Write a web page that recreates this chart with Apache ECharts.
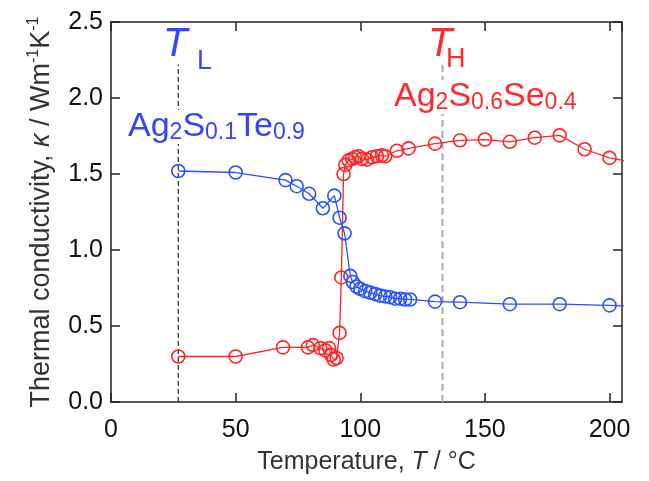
<!DOCTYPE html>
<html><head><meta charset="utf-8">
<script src="https://cdn.jsdelivr.net/npm/echarts@6/dist/echarts.min.js"></script>
<style>html,body{margin:0;padding:0;background:#fff}#c{width:649px;height:481px}</style>
</head><body><div id="c"></div>
<script>
// Ag2S0.1Te0.9 (blue)
const blueT = [27,50,70,74.5,79.5,85,89.6,91.7,93.7,96,97,98.5,100,102,104,106,108,110,112,114,116,118,120,130,140,160,180,200,210];
const blueK = [1.52,1.51,1.46,1.42,1.37,1.275,1.358,1.213,1.11,0.83,0.79,0.76,0.745,0.73,0.72,0.71,0.70,0.695,0.69,0.68,0.68,0.675,0.675,0.661,0.657,0.644,0.644,0.636,0.63];
// Ag2S0.6Se0.4 (red)
const redT = [27,50,69,79,81,84,86,87.5,88.3,89.3,90.5,91.7,92.4,93.3,94,95.3,96.7,98,99.3,100.7,102.7,104.7,106.7,108.7,110,114.7,119.4,130,140,150,160,170,180,190,200,210];
const redK = [0.30,0.30,0.36,0.36,0.375,0.355,0.34,0.355,0.31,0.28,0.29,0.455,0.82,1.50,1.56,1.59,1.60,1.61,1.617,1.60,1.595,1.61,1.617,1.623,1.617,1.653,1.669,1.70,1.722,1.727,1.712,1.739,1.754,1.663,1.606,1.575];
const tL = 27, tH = 133, markTop = 2.22;
const xTicks = [0,50,100,150,200];
const yTicks = [0,0.5,1.0,1.5,2.0,2.5];

const BLUE = '#2850ff', RED = '#ff2424';
const TBLUE = '#3344ff', TRED = '#ff2a2a';
const FONT = 'Liberation Sans';
const axisColor = '#222';
const pairs = (xs, ys) => xs.map((x, i) => [x, ys[i]]);

const chart = echarts.init(document.getElementById('c'), null, {renderer: 'canvas'});
const commonAxis = {
  axisLine: {show: true, onZero: false, lineStyle: {color: axisColor, width: 1.5}},
  axisTick: {show: true, inside: true, length: 9, lineStyle: {color: axisColor, width: 1.5}},
  splitLine: {show: false}
};
chart.setOption({
  animation: false,
  backgroundColor: '#fff',
  grid: {left: 111, right: 27, top: 22, bottom: 70},
  xAxis: [
    Object.assign({type: 'value', min: 0, max: 205, interval: 50, position: 'bottom',
      name: 'Temperature, {i|T} / °C', nameLocation: 'middle', nameGap: 38,
      nameTextStyle: {fontFamily: FONT, fontSize: 25, color: '#333', lineHeight: 28,
        rich: {i: {fontFamily: FONT, fontSize: 25, fontStyle: 'italic', color: '#333'}}},
      axisLabel: {fontFamily: FONT, fontSize: 25, color: '#111', margin: 16, showMaxLabel: false,
        formatter: v => xTicks.includes(v) ? String(v) : ''}}, commonAxis),
    Object.assign({type: 'value', min: 0, max: 205, interval: 50, position: 'top',
      axisLabel: {show: false}}, commonAxis)
  ],
  yAxis: [
    Object.assign({type: 'value', min: 0, max: 2.5, interval: 0.5, position: 'left',
      name: 'Thermal conductivity, {i|κ} / Wm{s|-1}K{s|-1}', nameLocation: 'middle', nameGap: 52,
      nameTextStyle: {fontFamily: FONT, fontSize: 27, color: '#333', lineHeight: 32,
        rich: {i: {fontFamily: FONT, fontSize: 27, fontStyle: 'italic', color: '#333', lineHeight: 32},
               s: {fontFamily: FONT, fontSize: 16, color: '#333', lineHeight: 16, verticalAlign: 'top'}}},
      axisLabel: {fontFamily: FONT, fontSize: 25, color: '#111', margin: 8,
        formatter: v => yTicks.some(t => Math.abs(t - v) < 1e-9) ? v.toFixed(1) : ''}}, commonAxis),
    Object.assign({type: 'value', min: 0, max: 2.5, interval: 0.5, position: 'right',
      axisLabel: {show: false}}, commonAxis)
  ],
  series: [
    {type: 'line', data: [[tL, 0], [tL, markTop]], symbol: 'none', silent: true,
     lineStyle: {color: '#444', width: 1.4, type: [5, 3]}, z: 1},
    {type: 'line', data: [[tH, 0], [tH, markTop]], symbol: 'none', silent: true,
     lineStyle: {color: '#aaa', width: 2, type: [7, 4]}, z: 1},
    {type: 'line', name: 'red', data: pairs(redT, redK), clip: true,
     symbol: 'circle', symbolSize: 13,
     itemStyle: {color: 'rgba(0,0,0,0)', borderColor: RED, borderWidth: 1.6},
     lineStyle: {color: RED, width: 1.3}, z: 3},
    {type: 'line', name: 'blue', data: pairs(blueT, blueK), clip: true,
     symbol: 'circle', symbolSize: 13,
     itemStyle: {color: 'rgba(0,0,0,0)', borderColor: BLUE, borderWidth: 1.6},
     lineStyle: {color: BLUE, width: 1.3}, z: 3}
  ],
  graphic: [
    {type: 'text', x: 163, y: 25, z: 10, style: {text: 'T', fill: TBLUE,
      font: 'italic 40px "Liberation Sans"'}},
    {type: 'text', x: 197, y: 48, z: 10, style: {text: 'L', fill: TBLUE,
      font: '27px "Liberation Sans"'}},
    {type: 'text', x: 428, y: 25, z: 10, style: {text: 'T', fill: TRED,
      font: 'italic 40px "Liberation Sans"'}},
    {type: 'text', x: 446, y: 46, z: 10, style: {text: 'H', fill: TRED,
      font: '27px "Liberation Sans"'}},
    {type: 'text', x: 128, y: 110, z: 10, style: {
      text: '{b|Ag}{s|2}{b|S}{s|0.1}{b|Te}{s|0.9}', fill: TBLUE, backgroundColor: '#fff',
      rich: {b: {fontFamily: FONT, fontSize: 34, fill: TBLUE, lineHeight: 34, verticalAlign: 'bottom'},
             s: {fontFamily: FONT, fontSize: 23, fill: TBLUE, lineHeight: 14, verticalAlign: 'bottom'}}}},
    {type: 'text', x: 394, y: 80, z: 10, style: {
      text: '{b|Ag}{s|2}{b|S}{s|0.6}{b|Se}{s|0.4}', fill: TRED, backgroundColor: '#fff',
      rich: {b: {fontFamily: FONT, fontSize: 34, fill: TRED, lineHeight: 34, verticalAlign: 'bottom'},
             s: {fontFamily: FONT, fontSize: 23, fill: TRED, lineHeight: 14, verticalAlign: 'bottom'}}}}
  ]
});
</script></body></html>
